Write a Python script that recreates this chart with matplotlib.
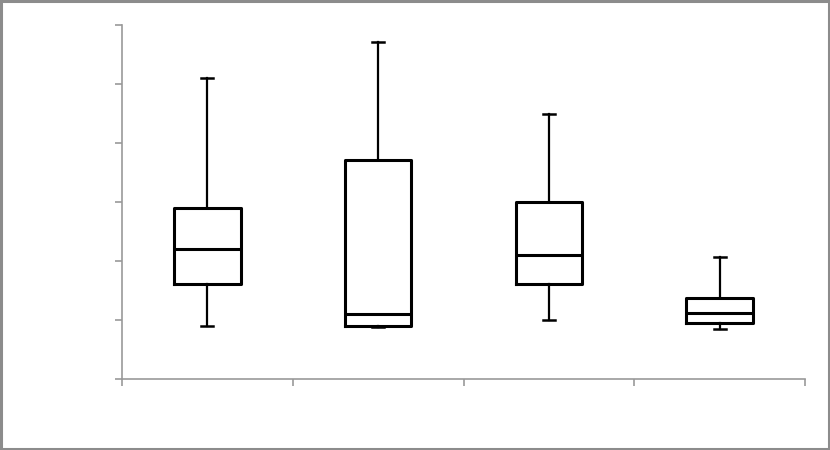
import matplotlib
matplotlib.use("Agg")
import matplotlib.pyplot as plt
from matplotlib.patches import Rectangle

categories = ["A", "B", "C", "D"]
whisker_low = [0.90, 0.88, 1.00, 0.85]
q1 = [1.61, 0.90, 1.61, 0.95]
median = [2.20, 1.10, 2.10, 1.12]
q3 = [2.90, 3.71, 3.00, 1.37]
whisker_high = [5.10, 5.71, 4.49, 2.07]
y_ticks = [0, 1, 2, 3, 4, 5, 6]

fig = plt.figure(figsize=(8.3, 4.5), dpi=100)
fig.patch.set_facecolor("white")
fig.add_artist(Rectangle((0.0015, 0.0025), 0.997, 0.995, transform=fig.transFigure,
                         fill=False, edgecolor="#8c8c8c", linewidth=2.2))

ax = fig.add_axes([0.147, 0.158, 0.823, 0.786])

stats = []
for i, c in enumerate(categories):
    stats.append(dict(label=c, whislo=whisker_low[i], q1=q1[i], med=median[i],
                      q3=q3[i], whishi=whisker_high[i], fliers=[]))

positions = [i + 0.5 for i in range(len(categories))]
ax.bxp(stats, positions=positions, widths=0.39, showfliers=False,
       boxprops=dict(color="black", linewidth=2.2),
       medianprops=dict(color="black", linewidth=2.2),
       whiskerprops=dict(color="black", linewidth=1.6),
       capprops=dict(color="black", linewidth=1.8),
       capwidths=0.07)

ax.set_xlim(0, len(categories))
ax.set_ylim(y_ticks[0], y_ticks[-1])
ax.set_xticks(range(len(categories) + 1))
ax.set_yticks(y_ticks)
ax.set_xticklabels([])
ax.set_yticklabels([])
for s in ["top", "right"]:
    ax.spines[s].set_visible(False)
for s in ["left", "bottom"]:
    ax.spines[s].set_color("#999999")
    ax.spines[s].set_linewidth(1.2)
ax.tick_params(axis="both", direction="out", length=5, width=1.2, color="#999999")
ax.patch.set_alpha(0)

fig.savefig("out.png", dpi=100, facecolor="white")
